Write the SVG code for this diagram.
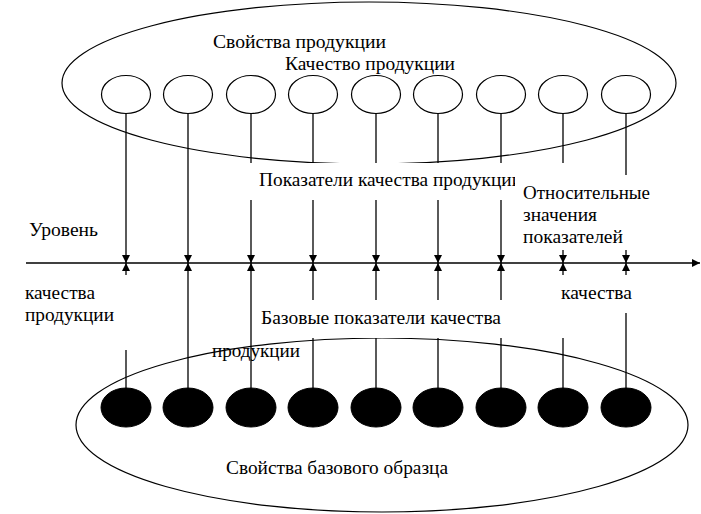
<svg xmlns="http://www.w3.org/2000/svg" width="701" height="514" viewBox="0 0 701 514">
<style>
.big{fill:none;stroke:#000;stroke-width:1.2}
.pc{fill:#fff;stroke:#000;stroke-width:1.2}
.bc{fill:#000;stroke:#000;stroke-width:1}
.ln{stroke:#000;stroke-width:1.3;fill:none}
.ar{stroke:#000;stroke-width:1.3;fill:none;marker-end:url(#ah)}
.box{fill:#fff;stroke:none}
text{font-family:"Liberation Serif","Times New Roman",serif;font-size:18px;fill:#000}
</style>
<defs>
<marker id="ah" markerUnits="userSpaceOnUse" markerWidth="9" markerHeight="9" refX="8" refY="4" orient="auto">
<path d="M0,0 L8,4 L0,8 z" fill="#000"/>
</marker>
</defs>
<rect width="701" height="514" fill="#fff"/>
<g id="product-properties">
<ellipse class="big" cx="369" cy="83" rx="307" ry="81"/>
</g>
<g id="base-sample-properties">
<ellipse class="big" cx="382" cy="425" rx="306" ry="87"/>
</g>
<g id="quality-properties">
<ellipse id="p1" class="pc" cx="126" cy="94.5" rx="24.5" ry="19"/>
<ellipse id="p2" class="pc" cx="188" cy="94.5" rx="24.5" ry="19"/>
<ellipse id="p3" class="pc" cx="251" cy="94.5" rx="24.5" ry="19"/>
<ellipse id="p4" class="pc" cx="313" cy="94.5" rx="24.5" ry="19"/>
<ellipse id="p5" class="pc" cx="376" cy="94.5" rx="24.5" ry="19"/>
<ellipse id="p6" class="pc" cx="438" cy="94.5" rx="24.5" ry="19"/>
<ellipse id="p7" class="pc" cx="501" cy="94.5" rx="24.5" ry="19"/>
<ellipse id="p8" class="pc" cx="563" cy="94.5" rx="24.5" ry="19"/>
<ellipse id="p9" class="pc" cx="626" cy="94.5" rx="24.5" ry="19"/>
</g>
<g id="base-properties">
<ellipse id="b1" class="bc" cx="126" cy="407.5" rx="25" ry="19.5"/>
<ellipse id="b2" class="bc" cx="188" cy="407.5" rx="25" ry="19.5"/>
<ellipse id="b3" class="bc" cx="251" cy="407.5" rx="25" ry="19.5"/>
<ellipse id="b4" class="bc" cx="313" cy="407.5" rx="25" ry="19.5"/>
<ellipse id="b5" class="bc" cx="376" cy="407.5" rx="25" ry="19.5"/>
<ellipse id="b6" class="bc" cx="438" cy="407.5" rx="25" ry="19.5"/>
<ellipse id="b7" class="bc" cx="501" cy="407.5" rx="25" ry="19.5"/>
<ellipse id="b8" class="bc" cx="563" cy="407.5" rx="25" ry="19.5"/>
<ellipse id="b9" class="bc" cx="626" cy="407.5" rx="25" ry="19.5"/>
</g>
<g id="connectors">
<path class="ar" d="M26,263 H700"/>
<path class="ar" d="M126,113.5 V263"/>
<path class="ar" d="M188,113.5 V263"/>
<path class="ar" d="M251,113.5 V263"/>
<path class="ar" d="M313,113.5 V263"/>
<path class="ar" d="M376,113.5 V263"/>
<path class="ar" d="M438,113.5 V263"/>
<path class="ar" d="M501,113.5 V263"/>
<path class="ar" d="M563,113.5 V263"/>
<path class="ar" d="M626,113.5 V263"/>
<path class="ar" d="M126,388 V263"/>
<path class="ar" d="M188,388 V263"/>
<path class="ar" d="M251,388 V263"/>
<path class="ar" d="M313,388 V263"/>
<path class="ar" d="M376,388 V263"/>
<path class="ar" d="M438,388 V263"/>
<path class="ar" d="M501,388 V263"/>
<path class="ar" d="M563,388 V263"/>
<path class="ar" d="M626,388 V263"/>
</g>
<g id="labels">
<text x="213" y="48" textLength="173" lengthAdjust="spacingAndGlyphs">Свойства продукции</text>
<text x="285" y="70" textLength="170" lengthAdjust="spacingAndGlyphs">Качество продукции</text>
<g id="label-indicators">
<rect class="box" x="213" y="163" width="390" height="37"/>
<text x="259" y="186" textLength="263" lengthAdjust="spacingAndGlyphs">Показатели качества продукции</text>
</g>
<g id="label-relative">
<rect class="box" x="515" y="175" width="186" height="75"/>
<text x="523" y="199" textLength="127" lengthAdjust="spacingAndGlyphs">Относительные</text>
<text x="523" y="221" textLength="74" lengthAdjust="spacingAndGlyphs">значения</text>
<text x="523" y="243" textLength="100" lengthAdjust="spacingAndGlyphs">показателей</text>
</g>
<g id="label-level">
<rect class="box" x="13" y="213" width="102" height="39"/>
<text x="29" y="236" textLength="69" lengthAdjust="spacingAndGlyphs">Уровень</text>
</g>
<g id="label-quality-left">
<rect class="box" x="0" y="275" width="153" height="75"/>
<text x="25" y="299" textLength="70" lengthAdjust="spacingAndGlyphs">качества</text>
<text x="25" y="321" textLength="89" lengthAdjust="spacingAndGlyphs">продукции</text>
</g>
<g id="label-quality-right">
<rect class="box" x="550" y="275" width="140" height="38"/>
<text x="561" y="299" textLength="71" lengthAdjust="spacingAndGlyphs">качества</text>
</g>
<g id="label-base">
<rect class="box" x="255" y="300" width="335" height="38"/>
<text x="261" y="324" textLength="240" lengthAdjust="spacingAndGlyphs">Базовые показатели качества</text>
</g>
<text x="212" y="357" textLength="88" lengthAdjust="spacingAndGlyphs">продукции</text>
<text x="226" y="474" textLength="222" lengthAdjust="spacingAndGlyphs">Свойства базового образца</text>
</g>
</svg>
